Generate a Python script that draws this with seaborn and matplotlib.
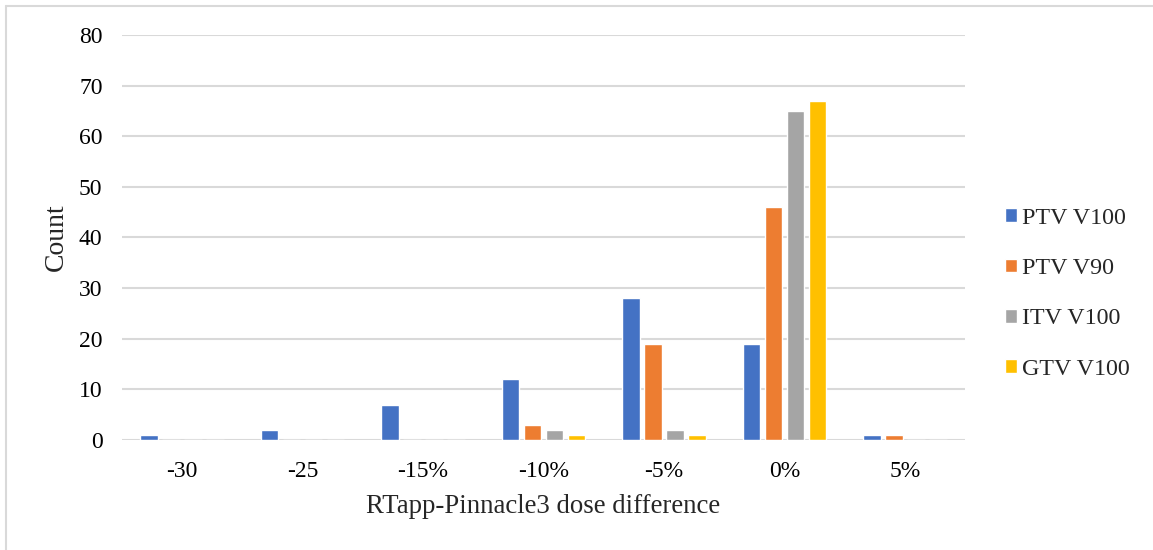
import matplotlib
matplotlib.use("Agg")
import matplotlib.pyplot as plt
from matplotlib.lines import Line2D
import seaborn as sns
import pandas as pd

categories = ["-30", "-25", "-15%", "-10%", "-5%", "0%", "5%"]
series_names = ["PTV V100", "PTV V90", "ITV V100", "GTV V100"]
ptv_v100 = [1, 2, 7, 12, 28, 19, 1]
ptv_v90 = [0, 0, 0, 3, 19, 46, 1]
itv_v100 = [0, 0, 0, 2, 2, 65, 0]
gtv_v100 = [0, 0, 0, 1, 1, 67, 0]
colors = ["#4472C4", "#ED7D31", "#A5A5A5", "#FFC000"]

rows = []
for name, vals in zip(series_names, [ptv_v100, ptv_v90, itv_v100, gtv_v100]):
    for cat, v in zip(categories, vals):
        rows.append({"Category": cat, "Series": name, "Count": v})
df = pd.DataFrame(rows)

sns.set_theme(style="white")
plt.rcParams["font.family"] = ["Liberation Serif", "DejaVu Serif"]

fig = plt.figure(figsize=(11.53, 5.5), dpi=100)
ax = fig.add_axes([0.1058, 0.2, 0.7312, 0.7364])

sns.barplot(data=df, x="Category", y="Count", hue="Series", order=categories,
            hue_order=series_names, palette=colors, width=0.73, gap=0.2,
            saturation=1, ax=ax, errorbar=None, zorder=3)

ax.set_ylim(0, 80)
ax.set_yticks(range(0, 81, 10))
ax.set_xlim(-0.5, len(categories) - 0.5)
ax.grid(axis="y", color="#D9D9D9", linewidth=1.5, zorder=0)
ax.set_axisbelow(True)
for s in ax.spines.values():
    s.set_visible(False)
ax.tick_params(axis="both", length=0, labelsize=17, colors="black")
ax.tick_params(axis="y", pad=14)
ax.tick_params(axis="x", pad=15)
ax.set_xlabel("RTapp-Pinnacle3 dose difference", fontsize=19.3, labelpad=9)
ax.set_ylabel("Count", fontsize=20, labelpad=7)

handles, labels = ax.get_legend_handles_labels()
ax.legend(handles, labels, loc="center left", bbox_to_anchor=(0.853, 0.466),
          bbox_transform=fig.transFigure, frameon=False, fontsize=17.3,
          handlelength=0.5, handleheight=0.5, handletextpad=0.2,
          labelspacing=1.22)

# outer chart border
fig.add_artist(Line2D([0.0052, 0.0052], [0, 0.989], transform=fig.transFigure,
                      color="#D9D9D9", linewidth=1.5))
fig.add_artist(Line2D([0.0052, 1], [0.989, 0.989], transform=fig.transFigure,
                      color="#D9D9D9", linewidth=1.5))

fig.savefig("out.png", dpi=100, facecolor="white")
